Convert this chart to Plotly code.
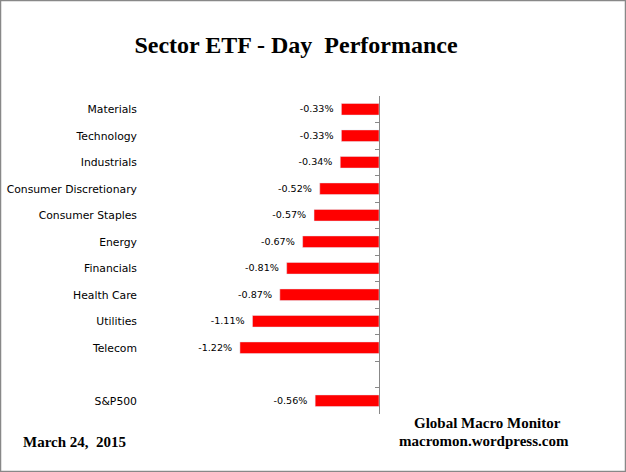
import plotly.graph_objects as go

categories = ["Materials", "Technology", "Industrials", "Consumer Discretionary",
              "Consumer Staples", "Energy", "Financials", "Health Care",
              "Utilities", "Telecom", " ", "S&P500"]
values = [-0.33, -0.33, -0.34, -0.52, -0.57, -0.67, -0.81, -0.87, -1.11, -1.22, None, -0.56]
labels = ["" if v is None else f"{v:.2f}%\u2002" for v in values]

W, H = 626, 472
L, R, T, B = 151, 247, 96, 58
pw, ph = W - L - R, H - T - B

fig = go.Figure()
fig.add_trace(go.Bar(
    x=values, y=categories, orientation="h",
    marker=dict(color="#ff0000", line=dict(width=0)),
    text=labels, textposition="outside", cliponaxis=False,
    textfont=dict(family="DejaVu Sans", size=10.7, color="#000000"),
    yaxis="y", hoverinfo="skip",
))
fig.add_trace(go.Bar(
    x=values, y=categories, orientation="h",
    marker=dict(color="rgba(0,0,0,0)"), yaxis="y2", hoverinfo="skip",
    showlegend=False,
))

fig.update_layout(
    width=W, height=H,
    margin=dict(l=L, r=R, t=T, b=B, autoexpand=False),
    paper_bgcolor="white", plot_bgcolor="white",
    showlegend=False, bargap=0.56, barmode="overlay",
    xaxis=dict(range=[-2, 0], visible=False, fixedrange=True, automargin=False),
    yaxis=dict(
        type="category", categoryorder="array", categoryarray=categories,
        autorange="reversed", showline=False, ticks="", showgrid=False,
        tickfont=dict(family="DejaVu Sans", size=10.8, color="#000000"),
        ticklabelstandoff=13, automargin=False,
    ),
    yaxis2=dict(
        type="category", categoryorder="array", categoryarray=categories,
        autorange="reversed", overlaying="y", side="right", anchor="x",
        showline=True, linecolor="#888888", linewidth=1,
        ticks="inside", tickson="boundaries", ticklen=4, tickcolor="#888888",
        tickwidth=1, showticklabels=False, showgrid=False, automargin=False,
    ),
    title=dict(
        text="<b>Sector ETF - Day  Performance</b>",
        font=dict(family="Liberation Serif", size=24, color="#000000"),
        x=296 / W, xanchor="center", y=1 - 45 / H, yanchor="middle",
        xref="container", yref="container", automargin=False,
    ),
    annotations=[
        dict(text="<b>March 24,  2015</b>", xref="paper", yref="paper",
             x=(21 - L) / pw, y=-(442 - T - ph) / ph, xanchor="left", yanchor="middle",
             showarrow=False, font=dict(family="Liberation Serif", size=15, color="#000000")),
        dict(text="<b>Global Macro Monitor</b>", xref="paper", yref="paper",
             x=(487 - L) / pw, y=-(423 - T - ph) / ph, xanchor="center", yanchor="middle",
             showarrow=False, font=dict(family="Liberation Serif", size=15, color="#000000")),
        dict(text="<b>macromon.wordpress.com</b>", xref="paper", yref="paper",
             x=(484 - L) / pw, y=-(441 - T - ph) / ph, xanchor="center", yanchor="middle",
             showarrow=False, font=dict(family="Liberation Serif", size=15, color="#000000")),
    ],
    shapes=[dict(type="rect", xref="paper", yref="paper",
                 x0=-(L - 0.5) / pw, x1=1 + (R - 0.5) / pw,
                 y0=-(B - 0.5) / ph, y1=1 + (T - 0.5) / ph,
                 line=dict(color="#888888", width=1.5), fillcolor="rgba(0,0,0,0)")],
)

fig.write_html("out.html", config={"displayModeBar": False},
               post_script="document.body.style.margin='0';document.body.style.padding='0';"
                           "document.documentElement.style.overflow='hidden';")
